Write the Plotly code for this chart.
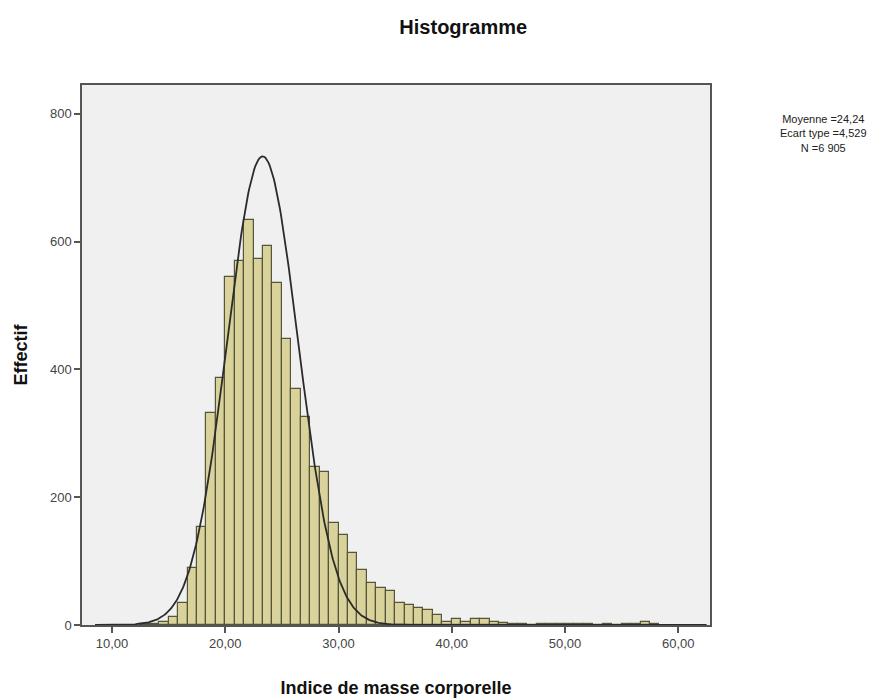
import numpy as np
import plotly.graph_objects as go

# Histogram data (bins of width 5/6 starting at 12.5)
bin_start = 12.5
bin_width = 10.0 / 12.0
counts = [1, 2, 5, 12, 35, 89, 154, 332, 387,
          544, 569, 633, 572, 593, 535, 448, 369, 326, 248, 239, 160,
          141, 112, 86, 66, 58, 53, 35, 31, 27, 24, 16, 5,
          9, 4, 10, 10, 4, 3, 1, 1, 0, 2, 2, 1,
          1, 1, 1, 0, 1, 0, 1, 1, 5, 1]

# Normal curve overlay parameters (as drawn)
curve_mean = 23.3
curve_sd = 3.13
curve_n = 6905

x_tickvals = [10, 20, 30, 40, 50, 60]
x_ticktext = ["10,00", "20,00", "30,00", "40,00", "50,00", "60,00"]
y_tickvals = [0, 200, 400, 600, 800]
y_ticktext = ["0", "200", "400", "600", "800"]

stats_lines = ["Moyenne =24,24", "Ecart type =4,529", "N =6 905"]

centers = [bin_start + (i + 0.5) * bin_width for i in range(len(counts))]

xc = np.linspace(8.5, 62.5, 600)
yc = curve_n * bin_width * np.exp(-0.5 * ((xc - curve_mean) / curve_sd) ** 2) / (curve_sd * np.sqrt(2 * np.pi))

fig = go.Figure()
fig.add_trace(go.Bar(
    x=centers, y=counts, width=bin_width,
    marker=dict(color="#d9d39b", line=dict(color="#55553c", width=1.2)),
    showlegend=False, hoverinfo="x+y"))
fig.add_trace(go.Scatter(
    x=xc, y=yc, mode="lines", line=dict(color="#2b2b2b", width=1.8),
    showlegend=False, hoverinfo="skip"))

font_family = "Liberation Sans, Arial, sans-serif"

W, H = 884, 690
L, R, T, B = 74, 182, 77, 73
plot_h = H - T - B
plot_w = W - L - R

fig.update_layout(
    width=W, height=H,
    margin=dict(l=L, r=R, t=T, b=B),
    paper_bgcolor="white", plot_bgcolor="#f0f0f0",
    bargap=0,
    font=dict(family=font_family, color="#444444"),
    title=dict(text="<b>Histogramme</b>", x=0.515, xanchor="center", y=1 - 19 / H, yanchor="middle",
               font=dict(size=20, color="#111111", family=font_family)),
)
fig.update_xaxes(
    range=[7.35, 62.8], tickvals=x_tickvals, ticktext=x_ticktext,
    ticks="outside", ticklen=6, tickwidth=1.5, tickcolor="#555555",
    showgrid=False, zeroline=False, automargin=False,
    showline=True, linecolor="#555555", linewidth=1.5, mirror=True,
    tickfont=dict(size=13, color="#444444"),
    title=dict(text="<b>Indice de masse corporelle</b>", font=dict(size=18, color="#111111"), standoff=35),
)
fig.update_yaxes(
    range=[0, 845], tickvals=y_tickvals, ticktext=y_ticktext,
    ticks="outside", ticklen=6, tickwidth=1.5, tickcolor="#555555",
    showgrid=False, zeroline=False, automargin=False,
    showline=True, linecolor="#555555", linewidth=1.5, mirror=True,
    tickfont=dict(size=13, color="#444444"),
    title=dict(text="<b>Effectif</b>", font=dict(size=18, color="#111111"), standoff=18),
)

fig.add_annotation(
    text="<br>".join(stats_lines), xref="paper", yref="paper",
    x=(815 - L) / plot_w, y=1 - (125 - T) / plot_h,
    xanchor="center", yanchor="middle", align="center", showarrow=False,
    font=dict(size=11, color="#222222", family=font_family))

fig.write_html("out.html")
